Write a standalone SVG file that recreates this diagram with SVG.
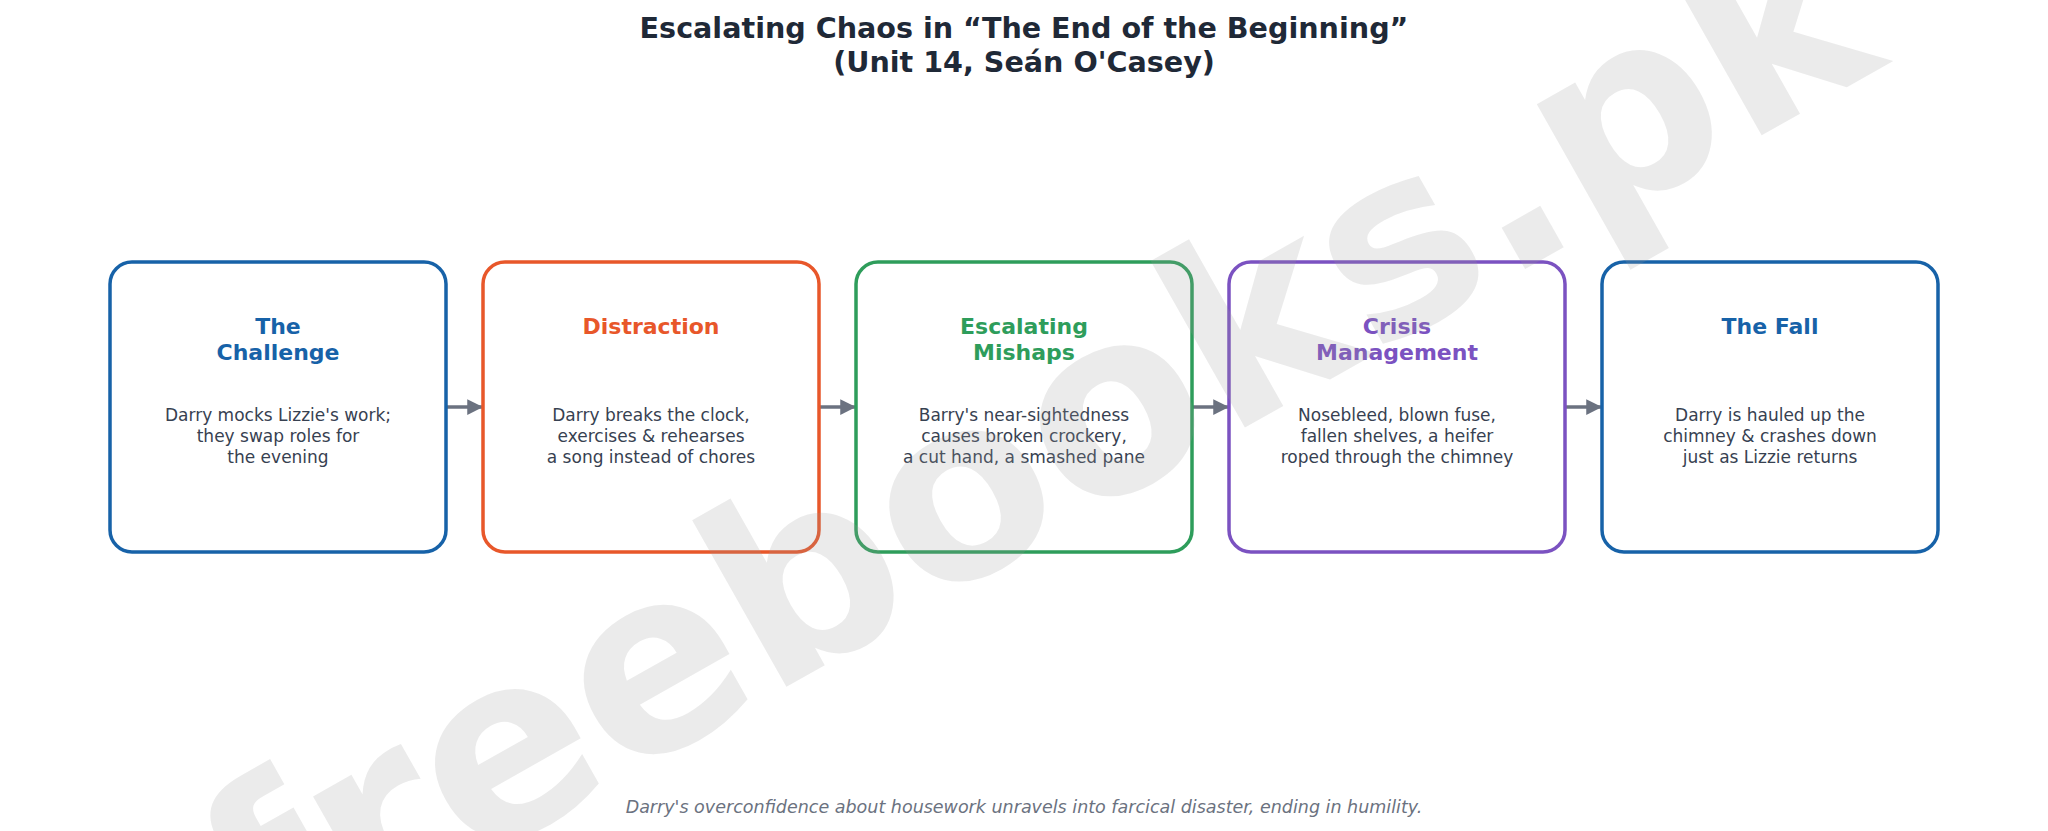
<svg xmlns="http://www.w3.org/2000/svg" width="2048" height="831" viewBox="0 0 2048 831">
<style>
.box{fill:none;stroke-width:3.5}
.nt{font-family:"DejaVu Sans",sans-serif;font-weight:bold;font-size:22px;text-anchor:middle}
.nd{font-family:"DejaVu Sans",sans-serif;font-size:17px;fill:#374151;text-anchor:middle}
.title{font-family:"DejaVu Sans",sans-serif;font-weight:bold;font-size:28.6px;fill:#1f2937;text-anchor:middle}
.foot{font-family:"DejaVu Sans",sans-serif;font-style:italic;font-size:17.5px;fill:#6b7280;text-anchor:middle}
.conn{stroke:#6b7280;stroke-width:3.5;fill:none;marker-end:url(#ah)}
.wm{font-family:"DejaVu Sans",sans-serif;font-weight:bold;font-size:252px;fill:#9a9a9a;fill-opacity:0.2;text-anchor:middle}
</style>
<defs>
<marker id="ah" viewBox="0 0 10 10" refX="10" refY="5" markerWidth="4.5" markerHeight="4.5" orient="auto" markerUnits="strokeWidth">
<path d="M0,0 L10,5 L0,10 z" fill="#6b7280"/>
</marker>
</defs>
<rect width="2048" height="831" fill="#ffffff"/>
<text class="title" x="1024" y="38">Escalating Chaos in “The End of the Beginning”</text>
<text class="title" x="1024" y="72">(Unit 14, Seán O'Casey)</text>
<g id="connectors">
<line class="conn" x1="447" y1="407" x2="483" y2="407"/>
<line class="conn" x1="820" y1="407" x2="856" y2="407"/>
<line class="conn" x1="1193" y1="407" x2="1229" y2="407"/>
<line class="conn" x1="1566" y1="407" x2="1602" y2="407"/>
</g>
<g id="n1">
<rect class="box" x="110" y="262" width="336" height="290" rx="22" stroke="#1762a8"/>
<text class="nt" fill="#1762a8"><tspan x="278" y="334">The</tspan><tspan x="278" y="360">Challenge</tspan></text>
<text class="nd"><tspan x="278" y="421">Darry mocks Lizzie's work;</tspan><tspan x="278" y="442">they swap roles for</tspan><tspan x="278" y="463">the evening</tspan></text>
</g>
<g id="n2">
<rect class="box" x="483" y="262" width="336" height="290" rx="22" stroke="#e8572a"/>
<text class="nt" fill="#e8572a"><tspan x="651" y="334">Distraction</tspan></text>
<text class="nd"><tspan x="651" y="421">Darry breaks the clock,</tspan><tspan x="651" y="442">exercises &amp; rehearses</tspan><tspan x="651" y="463">a song instead of chores</tspan></text>
</g>
<g id="n3">
<rect class="box" x="856" y="262" width="336" height="290" rx="22" stroke="#2e9d5b"/>
<text class="nt" fill="#2e9d5b"><tspan x="1024" y="334">Escalating</tspan><tspan x="1024" y="360">Mishaps</tspan></text>
<text class="nd"><tspan x="1024" y="421">Barry's near-sightedness</tspan><tspan x="1024" y="442">causes broken crockery,</tspan><tspan x="1024" y="463">a cut hand, a smashed pane</tspan></text>
</g>
<g id="n4">
<rect class="box" x="1229" y="262" width="336" height="290" rx="22" stroke="#7b52c1"/>
<text class="nt" fill="#7b52c1"><tspan x="1397" y="334">Crisis</tspan><tspan x="1397" y="360">Management</tspan></text>
<text class="nd"><tspan x="1397" y="421">Nosebleed, blown fuse,</tspan><tspan x="1397" y="442">fallen shelves, a heifer</tspan><tspan x="1397" y="463">roped through the chimney</tspan></text>
</g>
<g id="n5">
<rect class="box" x="1602" y="262" width="336" height="290" rx="22" stroke="#1762a8"/>
<text class="nt" fill="#1762a8"><tspan x="1770" y="334">The Fall</tspan></text>
<text class="nd"><tspan x="1770" y="421">Darry is hauled up the</tspan><tspan x="1770" y="442">chimney &amp; crashes down</tspan><tspan x="1770" y="463">just as Lizzie returns</tspan></text>
</g>
<text class="foot" x="1024" y="813">Darry's overconfidence about housework unravels into farcical disaster, ending in humility.</text>
<text class="wm" transform="translate(1078,522) rotate(-29.5)" x="0" y="0">freebooks.pk</text>
</svg>
